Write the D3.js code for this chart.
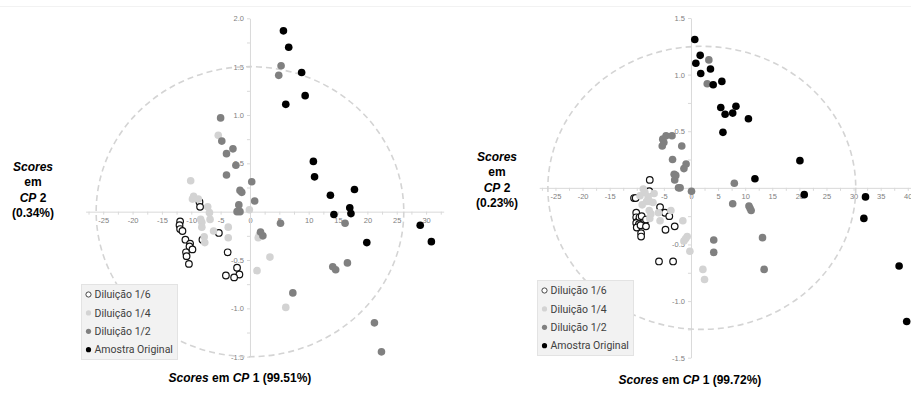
<!DOCTYPE html>
<html>
<head>
<meta charset="utf-8">
<script src="https://cdn.jsdelivr.net/npm/d3@7"></script>
<style>
  body { margin: 0; background: #fff; }
  svg { display: block; }
</style>
</head>
<body>
<svg id="chart" width="911" height="394"></svg>
<script>
// DATA /////////////////////////////////////////////////////////////////////////////////

var SERIES = ["Diluição 1/6", "Diluição 1/4", "Diluição 1/2", "Amostra Original"];

// tick labels
var LEFT_X_TICKS = [-25, -20, -15, -10, -5, 0, 5, 10, 15, 20, 25, 30];
var LEFT_Y_TICKS = [-1.5, -1.0, -0.5, 0.5, 1.0, 1.5, 2.0];
var RIGHT_X_TICKS = [-25, -20, -15, -10, -5, 0, 5, 10, 15, 20, 25, 30, 35, 40];
var RIGHT_Y_TICKS = [-1.5, -1.0, -0.5, 0.5, 1.0, 1.5];

// axis titles
var LEFT_X_PCT = "(99.51%)", LEFT_Y_PCT = "(0.34%)";
var RIGHT_X_PCT = "(99.72%)", RIGHT_Y_PCT = "(0.23%)";

// confidence ellipse: centre x, centre y, radius x, radius y
var LEFT_ELLIPSE = [0, 0, 26.2, 1.5];
var RIGHT_ELLIPSE = [2.0, 0, 28.4, 1.25];

// left panel scores [CP1, CP2]
var left16 = [[-8.6,0.10],[-8.5,0.05],[-11.9,-0.10],[-12.0,-0.14],[-11.9,-0.18],[-11.5,-0.20],[-11.0,-0.29],
  [-10.2,-0.33],[-10.3,-0.36],[-9.8,-0.39],[-10.9,-0.42],[-10.8,-0.46],[-10.4,-0.54],[-8.1,-0.29],[-5.3,-0.22],
  [-3.8,-0.42],[-2.2,-0.58],[-1.8,-0.65],[-2.7,-0.68],[-4.1,-0.66]];
var left14 = [[-5.4,0.79],[-10.1,0.32],[-9.6,0.16],[-9.8,0.13],[-8.8,0.13],[-7.2,0.05],[-6.9,-0.01],[-6.8,-0.08],
  [-8.4,-0.08],[-8.2,-0.11],[-8.2,-0.16],[-6.2,-0.20],[-3.7,-0.16],[-3.7,-0.27],[-7.8,-0.26],[-7.7,-0.32],
  [1.4,-0.27],[1.6,-0.24],[3.4,-0.47],[1.2,-0.61],[6.1,-0.99],[-0.1,0.02]];
var left12 = [[5.3,1.51],[4.9,1.41],[-5.0,0.97],[-4.8,0.73],[-4.0,0.60],[-2.9,0.65],[-2.4,0.48],[-4.0,0.38],
  [0.3,0.31],[-1.7,0.22],[-1.4,0.20],[0.8,0.11],[-1.9,0.07],[-2.2,0.00],[-1.7,0.00],[1.8,-0.21],[2.2,-0.25],
  [5.2,-0.12],[7.3,-0.84],[14.1,-0.57],[14.6,-0.60],[16.6,-0.53],[16.2,-0.12],[21.2,-1.15],[22.4,-1.45]];
var leftOrig = [[5.7,1.87],[6.6,1.70],[8.8,1.44],[9.4,1.20],[6.1,1.11],[10.8,0.52],[11.0,0.36],[13.7,0.17],
  [17.8,0.23],[17.0,0.04],[17.2,-0.02],[14.3,-0.03],[19.9,-0.32],[29.0,-0.14],[30.9,-0.31]];

// right panel scores [CP1, CP2]
var right16 = [[-7.6,0.07],[-7.7,-0.03],[-10.5,-0.09],[-10.2,-0.09],[-10.1,-0.22],[-10.1,-0.26],[-9.9,-0.30],
  [-9.5,-0.26],[-9.1,-0.25],[-10.1,-0.31],[-9.6,-0.32],[-10.0,-0.35],[-9.3,-0.33],[-8.3,-0.28],[-8.3,-0.34],
  [-9.2,-0.40],[-9.2,-0.43],[-5.7,-0.17],[-4.8,-0.22],[-4.0,-0.25],[-4.7,-0.37],[-3.0,-0.34],[-5.9,-0.65],[-3.3,-0.65]];
var right14 = [[-8.8,-0.01],[-8.5,-0.04],[-6.8,-0.05],[-7.9,-0.08],[-9.4,-0.07],[-8.2,-0.12],[-7.6,-0.12],
  [-7.0,-0.13],[-9.0,-0.15],[-7.7,-0.20],[-7.4,-0.23],[-7.6,-0.27],[-6.0,-0.22],[-5.7,-0.29],[-3.7,-0.20],
  [-1.5,-0.29],[-0.7,-0.43],[-1.0,-0.45],[-1.3,-0.47],[-0.2,-0.56],[2.2,-0.72],[2.5,-0.81]];
var right12 = [[3.3,1.13],[3.0,0.92],[-4.6,0.46],[-3.5,0.46],[-5.2,0.43],[-5.0,0.40],[-5.3,0.37],[-1.7,0.37],
  [-3.4,0.25],[-0.9,0.21],[-1.3,0.17],[-3.1,0.12],[-2.8,0.11],[-3.0,0.07],[-2.3,0.00],[-2.0,0.00],[0.1,-0.03],
  [8.0,0.04],[7.7,-0.14],[10.7,-0.16],[10.9,-0.18],[11.1,-0.20],[4.2,-0.46],[4.2,-0.57],[13.2,-0.44],[13.5,-0.72]];
var rightOrig = [[0.7,1.31],[1.7,1.17],[0.9,1.10],[1.8,1.01],[3.6,1.05],[4.1,0.91],[5.7,0.94],[5.5,0.71],
  [6.3,0.65],[7.7,0.66],[8.3,0.72],[10.6,0.61],[5.9,0.49],[20.1,0.24],[11.8,0.08],[20.9,-0.06],[32.2,-0.08],
  [31.9,-0.27],[38.4,-0.69],[39.8,-1.18]];

// STYLE ////////////////////////////////////////////////////////////////////////////////

var AXIS_COLOUR = "#d9d9d9";
var TICK_TEXT = "#808080";
var TITLE_FONT = "'Liberation Sans', Arial, sans-serif";
var LEGEND_FONT = "Roboto, 'Liberation Sans', sans-serif";

// fill / stroke per series
var DOT_FILL = ["#ffffff", "#d3d3d3", "#808080", "#000000"];
var DOT_STROKE = ["#111111", "none", "none", "none"];

var svg = d3.select("#chart");

// faint frame line at the top
svg.append("line").attr("x1", 0).attr("x2", 911).attr("y1", 6.5).attr("y2", 6.5)
    .attr("stroke", "#f2f2f2");

/////////////////////////////////////////////////////////////////////////////////////////

function drawPanel(p) {
    var x = d3.scaleLinear().domain(p.xDomain).range(p.xRange);
    var y = d3.scaleLinear().domain(p.yDomain).range(p.yRange);
    var g = svg.append("g");

    // minor ticks every 2.5 on x, 0.25 on y
    var xMinor = d3.range(Math.ceil(p.xDomain[0] / 2.5) * 2.5, p.xDomain[1] + 0.001, 2.5);
    var yMinor = d3.range(p.yDomain[0], p.yDomain[1] + 0.001, 0.25);

    var xAxis = g.append("g")
        .attr("transform", "translate(0," + y(0) + ")")
        .call(d3.axisBottom(x).tickValues(xMinor).tickSize(3).tickSizeOuter(0).tickPadding(3)
            .tickFormat(function (d) { return p.xTicks.indexOf(d) >= 0 ? String(d) : ""; }));

    var yAxis = g.append("g")
        .attr("transform", "translate(" + x(0) + ",0)")
        .call(d3.axisLeft(y).tickValues(yMinor).tickSize(3).tickSizeOuter(0).tickPadding(3)
            .tickFormat(function (d) {
                var hit = p.yTicks.filter(function (t) { return Math.abs(t - d) < 1e-6; });
                return hit.length ? hit[0].toFixed(1) : "";
            }));

    [xAxis, yAxis].forEach(function (a) {
        a.select(".domain").attr("stroke", AXIS_COLOUR);
        a.selectAll(".tick line").attr("stroke", AXIS_COLOUR);
        a.selectAll(".tick text")
            .attr("fill", TICK_TEXT)
            .style("font-family", "'Liberation Sans', Arial, sans-serif")
            .style("font-size", "7.5px");
    });

    // dashed ellipse
    var e = p.ellipse;
    g.append("ellipse")
        .attr("cx", x(e[0]))
        .attr("cy", y(e[1]))
        .attr("rx", x(e[0] + e[2]) - x(e[0]))
        .attr("ry", y(e[1]) - y(e[1] + e[3]))
        .attr("fill", "none")
        .attr("stroke", "#d4d4d4")
        .attr("stroke-width", 1.6)
        .attr("stroke-dasharray", "6,4");

    // score points, one group per series
    p.data.forEach(function (pts, i) {
        g.append("g")
            .selectAll("circle")
            .data(pts)
            .enter().append("circle")
            .attr("cx", function (d) { return x(d[0]); })
            .attr("cy", function (d) { return y(d[1]); })
            .attr("r", i === 0 ? 3.3 : 3.8)
            .attr("fill", DOT_FILL[i])
            .attr("stroke", DOT_STROKE[i])
            .attr("stroke-width", 1.2);
    });

    // legend
    var lg = g.append("g").attr("transform", "translate(" + p.legend[0] + "," + p.legend[1] + ")");
    lg.append("rect")
        .attr("width", 96).attr("height", 75)
        .attr("fill", "#f2f2f2").attr("stroke", "#e3e3e3");
    var items = lg.selectAll("g.item")
        .data(SERIES)
        .enter().append("g")
        .attr("class", "item")
        .attr("transform", function (d, i) { return "translate(0," + (10 + i * 18.4) + ")"; });
    items.append("circle")
        .attr("cx", 7).attr("r", 2.6)
        .attr("fill", function (d, i) { return DOT_FILL[i]; })
        .attr("stroke", function (d, i) { return DOT_STROKE[i] === "none" ? "none" : "#333"; })
        .attr("stroke-width", 0.9);
    items.append("text")
        .attr("x", 13).attr("dy", "0.35em")
        .attr("fill", "#404040")
        .style("font-family", LEGEND_FONT)
        .style("font-size", "10.5px")
        .text(function (d) { return d; });

    // x title
    var xt = svg.append("text")
        .attr("x", p.xTitle[0]).attr("y", p.xTitle[1])
        .attr("text-anchor", "middle")
        .style("font-family", TITLE_FONT).style("font-size", "12px").style("font-weight", "bold")
        .attr("fill", "#000");
    xt.append("tspan").style("font-style", "italic").text("Scores");
    xt.append("tspan").text(" em ");
    xt.append("tspan").style("font-style", "italic").text("CP");
    xt.append("tspan").text(" 1 " + p.xPct);

    // y title, stacked lines
    var lines = [["Scores", ""], ["", "em"], ["CP", " 2"], ["", p.yPct]];
    lines.forEach(function (l, i) {
        var t = svg.append("text")
            .attr("x", p.yTitle[0]).attr("y", p.yTitle[1] + i * 15.3)
            .attr("text-anchor", "middle")
            .style("font-family", TITLE_FONT).style("font-size", "12px").style("font-weight", "bold")
            .attr("fill", "#000");
        if (l[0]) t.append("tspan").style("font-style", "italic").text(l[0]);
        if (l[1]) t.append("tspan").text(l[1]);
    });
}

drawPanel({
    xDomain: [-28, 33], xRange: [85.6, 443.7],
    yDomain: [-1.5, 2.0], yRange: [356.7, 18.3],
    xTicks: LEFT_X_TICKS, yTicks: LEFT_Y_TICKS,
    ellipse: LEFT_ELLIPSE,
    data: [left16, left14, left12, leftOrig],
    legend: [81.5, 284.5],
    xTitle: [240, 382], xPct: LEFT_X_PCT,
    yTitle: [33, 171], yPct: LEFT_Y_PCT
});

drawPanel({
    xDomain: [-28, 41], xRange: [539.2, 913.2],
    yDomain: [-1.5, 1.5], yRange: [357.7, 18.0],
    xTicks: RIGHT_X_TICKS, yTicks: RIGHT_Y_TICKS,
    ellipse: RIGHT_ELLIPSE,
    data: [right16, right14, right12, rightOrig],
    legend: [537.5, 280.5],
    xTitle: [690, 384], xPct: RIGHT_X_PCT,
    yTitle: [497, 161], yPct: RIGHT_Y_PCT
});
</script>
</body>
</html>
